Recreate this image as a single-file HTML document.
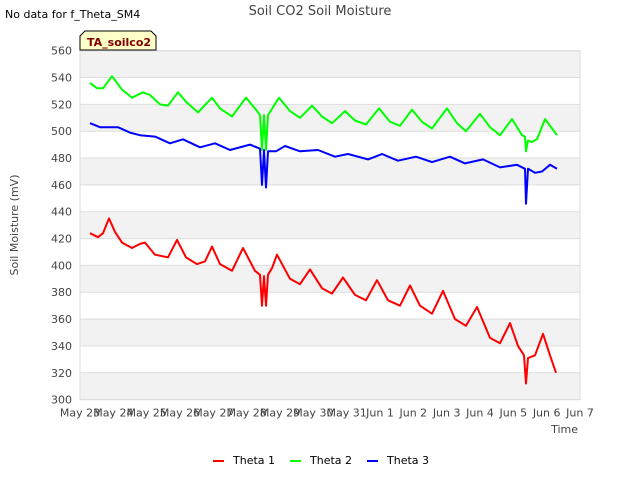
<!DOCTYPE html>
<html><head><meta charset="utf-8"><style>
body{margin:0;background:#fff;font-family:"DejaVu Sans","Liberation Sans",sans-serif;}
svg text{font-family:"DejaVu Sans","Liberation Sans",sans-serif;}
</style></head><body>
<svg id="c" width="640" height="480" xmlns="http://www.w3.org/2000/svg">
<text x="5" y="18" font-size="11" fill="#000">No data for f_Theta_SM4</text>
<text x="320" y="15" font-size="13" fill="#444" text-anchor="middle">Soil CO2 Soil Moisture</text>
<g id="grid"></g>
<g id="series"></g>
<g>
<path d="M80,50 L80,36 L85,31 L151,31 L156,36 L156,50 Z" fill="#ffffc8" stroke="#000" stroke-width="1"/>
<text x="87" y="46" font-size="11" font-weight="bold" fill="#800000">TA_soilco2</text>
</g>
<text transform="translate(18,225) rotate(-90)" font-size="11" fill="#444" text-anchor="middle">Soil Moisture (mV)</text>
<text x="578" y="433" font-size="11" fill="#444" text-anchor="end">Time</text>
<g id="legend"></g>
</svg>
<script>
const yTicks=[300,320,340,360,380,400,420,440,460,480,500,520,540,560];
const xTickLabels=["May 23","May 24","May 25","May 26","May 27","May 28","May 29","May 30","May 31","Jun 1","Jun 2","Jun 3","Jun 4","Jun 5","Jun 6","Jun 7"];
const seriesNames=["Theta 1","Theta 2","Theta 3"];
const seriesColors=["#ff0000","#00ff00","#0000ff"];
const t1=[0.30,0.54,0.69,0.87,1.05,1.26,1.56,1.80,1.95,2.25,2.64,2.91,3.18,3.51,3.75,3.96,4.20,4.56,4.89,5.25,5.40,5.46,5.52,5.58,5.64,5.76,5.91,6.30,6.60,6.90,7.26,7.56,7.89,8.25,8.58,8.91,9.24,9.60,9.90,10.20,10.56,10.89,11.25,11.58,11.91,12.30,12.60,12.90,13.14,13.32,13.38,13.44,13.65,13.89,14.10,14.28];
const v1=[424,421,424,435,425,417,413,416,417,408,406,419,406,401,403,414,401,396,413,396,393,370,392,370,393,398,408,390,386,397,383,379,391,378,374,389,374,370,385,370,364,381,360,355,369,346,342,357,340,333,312,331,333,349,333,320];
const t2=[0.30,0.51,0.69,0.96,1.26,1.56,1.89,2.10,2.40,2.64,2.94,3.18,3.54,3.96,4.20,4.56,4.98,5.28,5.40,5.46,5.52,5.58,5.64,5.97,6.30,6.60,6.96,7.26,7.56,7.95,8.25,8.58,8.97,9.30,9.60,9.96,10.26,10.56,11.01,11.31,11.58,12.00,12.30,12.60,12.96,13.26,13.35,13.38,13.44,13.56,13.71,13.95,14.16,14.31];
const v2=[536,532,532,541,531,525,529,527,520,519,529,522,514,525,517,511,525,516,512,486,512,486,512,525,515,510,519,511,506,515,508,505,517,507,504,516,507,502,517,506,500,513,503,497,509,497,496,485,493,492,494,509,502,497];
const t3=[0.30,0.60,1.14,1.50,1.80,2.25,2.70,3.09,3.60,4.05,4.50,5.10,5.40,5.46,5.52,5.58,5.64,5.88,6.15,6.60,7.14,7.65,8.04,8.64,9.06,9.54,10.08,10.56,11.10,11.55,12.09,12.60,13.11,13.35,13.38,13.44,13.65,13.86,14.10,14.31];
const v3=[506,503,503,499,497,496,491,494,488,491,486,490,487,460,486,458,485,485,489,485,486,481,483,479,483,478,481,477,481,476,479,473,475,472,446,472,469,470,475,472];
const X0=80,X1=580,Y0=399.6,Y1=50.7;
const xs=d=>X0+(X1-X0)*d/15;
const ys=v=>Y0-(Y0-Y1)*(v-300)/260;
const NS="http://www.w3.org/2000/svg";
function mk(tag,attrs,parent){const e=document.createElementNS(NS,tag);for(const k in attrs)e.setAttribute(k,attrs[k]);parent.appendChild(e);return e;}
const grid=document.getElementById('grid');
for(let i=0;i<yTicks.length-1;i++){
  if(i%2===0){const b=mk('rect',{x:X0,y:ys(yTicks[i+1]),width:X1-X0,height:ys(yTicks[i])-ys(yTicks[i+1]),fill:'#f2f2f2'},grid);
  
  }
}
yTicks.forEach(v=>{
  const l=mk('line',{x1:X0,x2:X1,y1:ys(v),y2:ys(v),stroke:'#dddddd','stroke-width':1},grid);
  
  
  const t=mk('text',{x:X0-8,y:ys(v)+4,'font-size':11,fill:'#444','text-anchor':'end'},grid);
  t.textContent=v;
  
  
});
const fr=mk('rect',{x:X0,y:Y1,width:X1-X0,height:Y0-Y1,fill:'none',stroke:'#dddddd'},grid);


xTickLabels.forEach((s,i)=>{
  const t=mk('text',{x:xs(i),y:Y0+17,'font-size':11,fill:'#444','text-anchor':'middle'},grid);
  t.textContent=s;
  
  
});
const sg=document.getElementById('series');
[[t1,v1],[t2,v2],[t3,v3]].forEach((d,k)=>{
  const pts=d[0].map((t,i)=>xs(t).toFixed(1)+','+ys(d[1][i]).toFixed(1)).join(' ');
  const p=mk('polyline',{points:pts,fill:'none',stroke:seriesColors[k],'stroke-width':2,'stroke-linejoin':'round'},sg);
  
  
});
const lg=document.getElementById('legend');
seriesNames.forEach((n,k)=>{
  const x=213+k*77;
  const g=mk('g',{},lg);
  
  
  mk('line',{x1:x,x2:x+11,y1:461,y2:461,stroke:seriesColors[k],'stroke-width':2},g);
  const t=mk('text',{x:x+20,y:464,'font-size':11,fill:'#000'},g);
  t.textContent=n;
});
</script>
</body></html>
